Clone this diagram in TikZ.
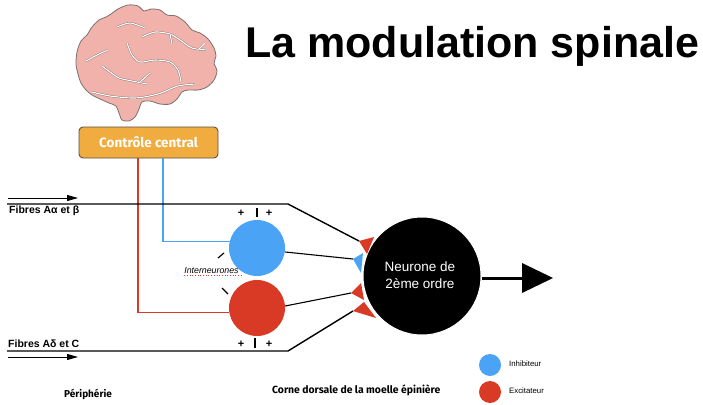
\documentclass[tikz,border=0pt]{standalone}
\usepackage{fontspec}
\setmainfont{Liberation Sans}
\newfontfamily\chalk{Fira Sans}
\usetikzlibrary{arrows.meta}
\definecolor{inhib}{RGB}{74,163,245}
\definecolor{excit}{RGB}{216,58,38}
\definecolor{ctrlfill}{RGB}{240,172,62}
\definecolor{ctrledge}{RGB}{90,80,70}
\definecolor{brainpink}{RGB}{240,178,170}
\definecolor{braingray}{RGB}{125,112,110}
\tikzset{
  fiber/.style={line width=1.4pt, black},
  syn/.style={line width=1.1pt, black},
  cell/.style={circle, minimum size=56pt, inner sep=0pt},
  legenddot/.style={circle, minimum size=22pt, inner sep=0pt},
  groove/.style={draw=braingray, line width=0.4pt, double=white, double distance=1.1pt},
  sign/.style={font=\bfseries\fontsize{11}{11}\selectfont, inner sep=0pt},
  bar/.style={line width=1.2pt, black},
  inarrow/.style={line width=0.9pt, -{Triangle[length=11pt,width=6pt]}},
}
\begin{document}
\begin{tikzpicture}[x=1pt,y=-1pt]
\useasboundingbox (0,0) rectangle (703,404);
\fill[white] (0,0) rectangle (703,404);

% title
\node[anchor=base west, inner sep=0pt, font=\bfseries\fontsize{43}{44}\selectfont] (title) at (245,57) {La modulation spinale};

% brain: lobed outline, cerebellum and stem
\fill[brainpink, draw=braingray, line width=0.8pt] plot[smooth cycle, tension=0.5] coordinates {
 (76,64) (77,52) (81,41) (87,35) (92,27) (99,20) (106,17) (111,14) (118,9) (128,5)
 (138,6) (144,11) (151,9) (160,10) (167,15) (176,16) (185,22) (192,30) (200,33)
 (208,39) (214,48) (216,56) (214,63) (217,71) (214,80) (207,87) (198,90) (188,90)
 (182,92) (177,99) (170,104) (160,104) (150,101) (142,102) (139,109) (135,117)
 (129,121) (122,120) (119,113) (116,106) (109,103) (100,99) (92,95) (86,90) (81,83) (78,74)};
\draw[groove] plot[smooth] coordinates {(117,27) (130,23) (145,28)};
\draw[groove] plot[smooth] coordinates {(142,37) (155,32) (170,34) (180,40) (192,48) (207,50)};
\draw[groove] (170,34) -- (172,44);
\draw[groove] (199,49) -- (205,43);
\draw[groove] plot[smooth] coordinates {(86,61) (97,55) (108,50)};
\draw[groove] plot[smooth] coordinates {(102,66) (110,72) (119,78) (132,81) (147,84)};
\draw[groove] (140,82) -- (150,73);
\draw[groove] plot[smooth] coordinates {(127,43) (132,55) (140,62) (155,60) (170,62) (178,70) (181,82)};
\draw[groove] plot[smooth] coordinates {(92,92) (110,96) (135,98) (158,94) (178,86) (196,84)};

% central control box
\node[draw=ctrledge, line width=0.9pt, fill=ctrlfill, rounded corners=4pt,
      minimum width=139pt, minimum height=31pt, inner sep=0pt,
      font=\chalk\bfseries\fontsize{13.5}{14}\selectfont, text=white] (ctrl) at (148.5,142.5) {Contrôle central};

% interneurons and second-order neuron
\node[cell, fill=inhib] (blue) at (257,248) {};
\node[cell, fill=excit] (red) at (257,308) {};
\node[circle, fill=black, draw=white, line width=1pt, minimum size=118pt, inner sep=0pt] (neuron) at (422,276) {};
\node[text=white, align=center, font=\fontsize{13.5}{16.5}\selectfont] (ntext) at (420,275) {Neurone de\\2ème ordre};

% descending control
\draw[inhib, line width=1.1pt] (ctrl.south -| 163,0) |- (blue.167);
\draw[excit, line width=1.1pt] (ctrl.south -| 138,0) |- (red.190);

% synaptic terminals on the second-order neuron
\coordinate (t1) at (359,241);
\coordinate (t2) at (353,259);
\coordinate (t3) at (351,293);
\coordinate (t4) at (353,311);
\fill[excit] (t1) -- (374,237) -- (367,254) -- cycle;
\fill[inhib] (t2) -- (363,253) -- (361,273) -- cycle;
\fill[excit] (t3) -- (361,283) -- (364,300) -- cycle;
\fill[excit] (t4) -- (364,302) -- (376,318) -- cycle;

% afferent fibres
\coordinate (fa0) at (7,204);
\coordinate (fa1) at (288,204);
\coordinate (fc0) at (7,351);
\coordinate (fc1) at (288,351);
\draw[fiber] (fa0) -- (fa1) -- (t1);
\draw[fiber] (fc0) -- (fc1) -- (t4);
\draw[syn] (blue.east) ++(0,4) coordinate (bo) (bo) -- (t2);
\draw[syn] (red.east) ++(0,-2) coordinate (ro) (ro) -- (t3);

\coordinate (aa0) at (8,198);
\coordinate (aa1) at (78,198);
\coordinate (ca0) at (8,357);
\coordinate (ca1) at (78,357);
\draw[inarrow] (aa0) -- (aa1);
\draw[inarrow] (ca0) -- (ca1);

\node[anchor=west, inner sep=0pt, font=\bfseries\fontsize{10.5}{10}\selectfont] (fibA) at (9,211) {Fibres Aα et β};
\node[anchor=west, inner sep=0pt, font=\bfseries\fontsize{10.5}{10}\selectfont] (fibC) at (8,344) {Fibres Aδ et C};

% output
\coordinate (out) at (553,278);
\draw[line width=3pt] (neuron.east |- out) -- (522,278);
\fill (522,263) -- (out) -- (522,293) -- cycle;

% signs around the interneurons
\node[sign] (p1) at (241,213) {+};
\node[sign] (p2) at (269,213) {+};
\draw[bar] (257,208) -- (257,217);
\node[sign] (p3) at (241,344) {+};
\node[sign] (p4) at (269,344) {+};
\draw[bar] (255,338) -- (255,348);
\draw[bar] (218,258) -- (224,253);
\draw[bar] (222,288) -- (228,294);

\node[font=\itshape\fontsize{8.8}{9}\selectfont, inner sep=0pt] (inter) at (211.5,270.5) {Interneurones};
\draw[excit, line width=0.7pt, dotted] (inter.south west) ++(0,2) -- ++(57,0);

% legend
\node[legenddot, fill=inhib] (li) at (490,365) {};
\node[legenddot, fill=excit] (le) at (490,392) {};
\node[anchor=west, inner sep=0pt, font=\fontsize{7.8}{8}\selectfont] (lit) at (509,364) {Inhibiteur};
\node[anchor=west, inner sep=0pt, font=\fontsize{7.8}{8}\selectfont] (let) at (509,391) {Excitateur};

% region labels
\node[anchor=west, inner sep=0pt, font=\chalk\bfseries\fontsize{10}{10}\selectfont] (peri) at (64,394) {Périphérie};
\node[anchor=west, inner sep=0pt, font=\chalk\bfseries\fontsize{10.4}{10}\selectfont] (corne) at (272,390) {Corne dorsale de la moelle épinière};
\end{tikzpicture}
\end{document}
